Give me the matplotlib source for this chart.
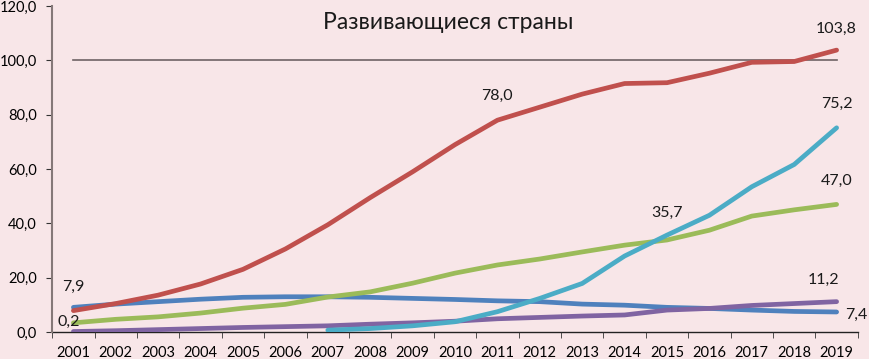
import matplotlib
matplotlib.use("Agg")
import matplotlib.pyplot as plt
import numpy as np

years = list(range(2001, 2020))

red = [7.9, 10.5, 13.6, 17.7, 23.1, 30.6, 39.5, 49.5, 59.0, 69.0, 78.0,
       82.8, 87.6, 91.5, 91.8, 95.3, 99.3, 99.6, 103.8]
blue = [9.1, 10.3, 11.2, 12.1, 12.8, 13.0, 13.0, 12.8, 12.4, 12.0, 11.5,
        11.2, 10.3, 9.9, 9.1, 8.7, 8.1, 7.6, 7.4]
green = [3.4, 4.7, 5.6, 7.0, 8.8, 10.2, 12.9, 14.8, 18.0, 21.7, 24.7,
         26.9, 29.5, 32.0, 33.9, 37.5, 42.7, 45.0, 47.0]
purple = [0.2, 0.5, 0.9, 1.3, 1.7, 2.0, 2.3, 2.9, 3.4, 4.0, 4.9,
          5.4, 5.9, 6.3, 8.1, 8.7, 9.8, 10.5, 11.2]
cyan_years = list(range(2007, 2020))
cyan = [0.7, 1.3, 2.3, 3.8, 7.5, 12.4, 17.9, 28.0, 35.7, 43.0, 53.5, 61.7, 75.2]

# label text, x, y
labels = [("7,9", 2001, 16.5), ("0,2", 2000.9, 3.6), ("78,0", 2011, 87.0),
          ("103,8", 2019, 111.5), ("75,2", 2019, 84.0), ("47,0", 2019, 55.5),
          ("35,7", 2015, 44.0), ("11,2", 2018.7, 19.3)]

bg = "#F8E6E8"
plt.rcParams['font.family'] = ['Lato', 'DejaVu Sans']

fig = plt.figure(figsize=(8.7, 3.59), dpi=100, facecolor=bg)
ax = fig.add_axes([0.06, 0.075, 0.926, 0.908], facecolor=bg)

ax.plot([2001, 2019], [100, 100], color="#6E6264", lw=1.2, zorder=1)
lw = 3.4
ax.plot(years, blue, color="#4F81BD", lw=lw, solid_capstyle="round")
ax.plot(years, purple, color="#8064A2", lw=lw, solid_capstyle="round")
ax.plot(years, green, color="#9BBB59", lw=lw, solid_capstyle="round")
ax.plot(cyan_years, cyan, color="#4BACC6", lw=lw, solid_capstyle="round")
ax.plot(years, red, color="#C0504D", lw=lw, solid_capstyle="round")

for txt, x, y in labels:
    ax.text(x, y, txt, ha="center", va="center", fontsize=11.5, color="#1A1A1A")
ax.text(2019.2, 6.3, "7,4", ha="left", va="center", fontsize=11.5, color="#1A1A1A")

ax.text(2009.85, 114.0, "Развивающиеся страны", ha="center", va="center",
        fontsize=16.5, color="#1A1A1A")

ax.set_xlim(2000.5, 2019.5)
ax.set_ylim(0, 120)
ax.set_yticks(np.arange(0, 121, 20))
ax.set_yticklabels([f"{v:.1f}".replace(".", ",") for v in np.arange(0, 121, 20)])
ax.set_xticks(years)
ax.set_xticklabels([str(y) for y in years])
ax.set_xticks(np.arange(2000.5, 2020, 1), minor=True)
ax.tick_params(axis="x", which="major", length=0, pad=10, labelsize=10.5)
ax.tick_params(axis="x", which="minor", length=4, direction="out", color="#333333")
ax.tick_params(axis="y", length=4, direction="out", color="#333333", labelsize=10.5, pad=7)

for s in ["top", "right"]:
    ax.spines[s].set_visible(False)
ax.spines["left"].set_color("#857878")
ax.spines["left"].set_linewidth(1.5)
ax.spines["bottom"].set_color("#222222")
ax.spines["bottom"].set_linewidth(1.0)
ax.spines["bottom"].set_zorder(0)

fig.savefig("out.png", dpi=100, facecolor=bg)
